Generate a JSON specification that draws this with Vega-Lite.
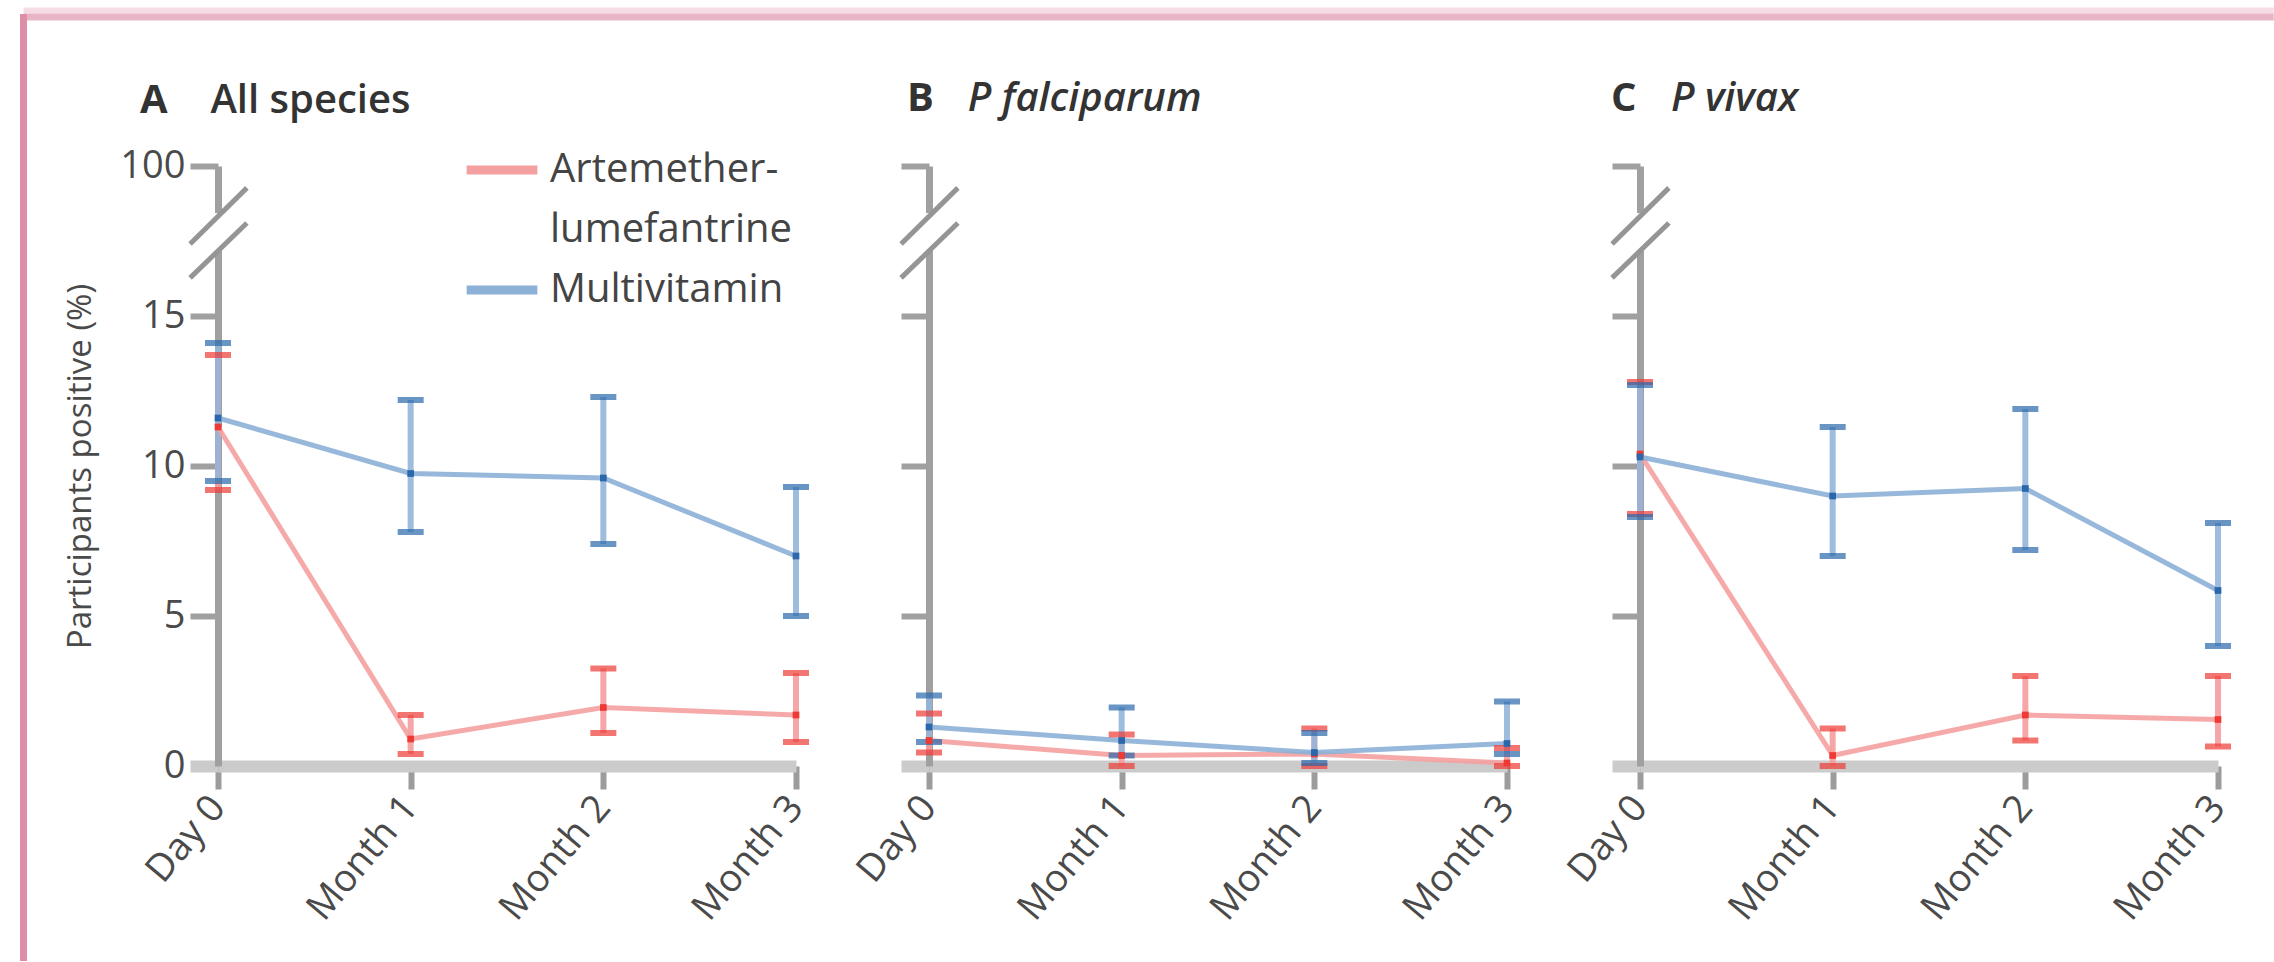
{
  "$schema": "https://vega.github.io/schema/vega-lite/v6.json",
  "background": "white",
  "padding": {"left": 20, "top": 7, "right": 0, "bottom": 0},
  "bounds": "flush",
  "spacing": 133,
  "datasets": {
    "pts": [
      {"panel": "A", "group": "Artemether-lumefantrine", "t": 0, "v": 11.3, "lo": 9.2, "hi": 13.7},
      {"panel": "A", "group": "Artemether-lumefantrine", "t": 1, "v": 0.9, "lo": 0.4, "hi": 1.7},
      {"panel": "A", "group": "Artemether-lumefantrine", "t": 2, "v": 1.95, "lo": 1.1, "hi": 3.25},
      {"panel": "A", "group": "Artemether-lumefantrine", "t": 3, "v": 1.7, "lo": 0.8, "hi": 3.1},
      {"panel": "A", "group": "Multivitamin", "t": 0, "v": 11.6, "lo": 9.5, "hi": 14.1},
      {"panel": "A", "group": "Multivitamin", "t": 1, "v": 9.75, "lo": 7.8, "hi": 12.2},
      {"panel": "A", "group": "Multivitamin", "t": 2, "v": 9.6, "lo": 7.4, "hi": 12.3},
      {"panel": "A", "group": "Multivitamin", "t": 3, "v": 7.0, "lo": 5.0, "hi": 9.3},
      {"panel": "B", "group": "Artemether-lumefantrine", "t": 0, "v": 0.85, "lo": 0.45, "hi": 1.75},
      {"panel": "B", "group": "Artemether-lumefantrine", "t": 1, "v": 0.35, "lo": 0.0, "hi": 1.05},
      {"panel": "B", "group": "Artemether-lumefantrine", "t": 2, "v": 0.4, "lo": 0.0, "hi": 1.25},
      {"panel": "B", "group": "Artemether-lumefantrine", "t": 3, "v": 0.1, "lo": 0.0, "hi": 0.6},
      {"panel": "B", "group": "Multivitamin", "t": 0, "v": 1.3, "lo": 0.8, "hi": 2.35},
      {"panel": "B", "group": "Multivitamin", "t": 1, "v": 0.85, "lo": 0.35, "hi": 1.95},
      {"panel": "B", "group": "Multivitamin", "t": 2, "v": 0.45, "lo": 0.1, "hi": 1.1},
      {"panel": "B", "group": "Multivitamin", "t": 3, "v": 0.75, "lo": 0.4, "hi": 2.15},
      {"panel": "C", "group": "Artemether-lumefantrine", "t": 0, "v": 10.4, "lo": 8.4, "hi": 12.8},
      {"panel": "C", "group": "Artemether-lumefantrine", "t": 1, "v": 0.35, "lo": 0.0, "hi": 1.25},
      {"panel": "C", "group": "Artemether-lumefantrine", "t": 2, "v": 1.7, "lo": 0.85, "hi": 3.0},
      {"panel": "C", "group": "Artemether-lumefantrine", "t": 3, "v": 1.55, "lo": 0.65, "hi": 3.0},
      {"panel": "C", "group": "Multivitamin", "t": 0, "v": 10.3, "lo": 8.3, "hi": 12.7},
      {"panel": "C", "group": "Multivitamin", "t": 1, "v": 9.0, "lo": 7.0, "hi": 11.3},
      {"panel": "C", "group": "Multivitamin", "t": 2, "v": 9.25, "lo": 7.2, "hi": 11.9},
      {"panel": "C", "group": "Multivitamin", "t": 3, "v": 5.85, "lo": 4.0, "hi": 8.1}
    ]
  },
  "config": {
    "font": "Open Sans",
    "view": {"stroke": null},
    "axis": {
      "grid": false,
      "labelFont": "Open Sans",
      "labelColor": "#4a4a4a",
      "labelFlush": false,
      "labelOverlap": false,
      "titleFont": "Open Sans",
      "titleFontWeight": "normal",
      "titleColor": "#4a4a4a"
    },
    "axisX": {
      "domain": true,
      "domainColor": "#cbcbcb",
      "domainWidth": 12,
      "tickColor": "#9c9c9c",
      "tickWidth": 6,
      "tickSize": 23,
      "labelExpr": "['Day 0','Month 1','Month 2','Month 3'][datum.value]",
      "labelAngle": -50,
      "labelAlign": "right",
      "labelBaseline": "middle",
      "labelFontSize": 38,
      "labelPadding": 12
    },
    "axisY": {
      "domain": true,
      "domainColor": "#a0a0a0",
      "domainWidth": 7,
      "tickSize": 28,
      "tickColor": {"condition": {"test": "datum.value === 0", "value": "#cbcbcb"}, "value": "#a0a0a0"},
      "tickWidth": {"condition": {"test": "datum.value === 0", "value": 12}, "value": 6},
      "labelFontSize": 38,
      "labelPadding": 5
    }
  },
  "resolve": {"scale": {"color": "independent"}, "legend": {"color": "independent"}},
  "hconcat": [
    {
      "width": 578,
      "height": 600,
      "title": {"text": "A", "subtitle": "\u200b\u2003\u2002\u00a0All species", "anchor": "start", "frame": "group", "dx": -78, "offset": -113, "font": "Open Sans", "fontSize": 40, "fontWeight": "bold", "lineHeight": 40, "color": "#333333", "subtitleFont": "Open Sans", "subtitleFontSize": 40, "subtitleFontWeight": 600, "subtitleLineHeight": 40, "subtitlePadding": -40, "subtitleColor": "#333333"},
      "data": {"name": "pts"},
      "transform": [{"filter": "datum.panel === 'A'"}],
      "encoding": {
        "x": {"field": "t", "type": "quantitative", "scale": {"domain": [0, 3], "nice": false, "zero": false}, "axis": {"values": [0, 1, 2, 3], "title": null}},
        "y": {"field": "v", "type": "quantitative", "scale": {"domain": [0, 20], "nice": false, "zero": false}, "axis": {"values": [0, 5, 10, 15, 20], "labelExpr": "datum.value == 20 ? '100' : datum.label", "title": "Participants positive (%)", "titleFontSize": 33, "titlePadding": 22}}
      },
      "layer": [
        {"transform": [{"filter": "datum.t === 0 && datum.group === 'Multivitamin'"}], "mark": {"type": "rule", "color": "#f6dde5", "strokeWidth": 6}, "encoding": {"x": {"datum": -1.0095, "type": "quantitative"}, "x2": {"datum": 10.67}, "y": {"datum": 25.18, "type": "quantitative"}}},
        {"transform": [{"filter": "datum.t === 0 && datum.group === 'Multivitamin'"}], "mark": {"type": "rule", "color": "#e8b5c5", "strokeWidth": 7}, "encoding": {"x": {"datum": -1.0095, "type": "quantitative"}, "x2": {"datum": 10.67}, "y": {"datum": 24.97, "type": "quantitative"}}},
        {"transform": [{"filter": "datum.t === 0 && datum.group === 'Multivitamin'"}], "mark": {"type": "rule", "color": "#de8fa8", "strokeWidth": 7}, "encoding": {"x": {"datum": -1.0095, "type": "quantitative"}, "y": {"datum": 25.07, "type": "quantitative"}, "y2": {"datum": -6.5}}},
        {"transform": [{"filter": "datum.t === 0 && datum.group === 'Multivitamin'"}], "mark": {"type": "rule", "color": "white", "strokeWidth": 11}, "encoding": {"x": {"datum": 0, "type": "quantitative"}, "y": {"datum": 17.17, "type": "quantitative"}, "y2": {"datum": 18.43}}},
        {"transform": [{"filter": "datum.t === 0 && datum.group === 'Multivitamin'"}], "mark": {"type": "rule", "color": "#959595", "strokeWidth": 5}, "encoding": {"x": {"datum": -0.145, "type": "quantitative"}, "x2": {"datum": 0.15}, "y": {"datum": 17.4, "type": "quantitative"}, "y2": {"datum": 19.27}}},
        {"transform": [{"filter": "datum.t === 0 && datum.group === 'Multivitamin'"}], "mark": {"type": "rule", "color": "#959595", "strokeWidth": 5}, "encoding": {"x": {"datum": -0.145, "type": "quantitative"}, "x2": {"datum": 0.15}, "y": {"datum": 16.27, "type": "quantitative"}, "y2": {"datum": 18.1}}},
        {"mark": {"type": "rule", "strokeWidth": 6, "opacity": 0.9}, "encoding": {"y": {"field": "lo", "type": "quantitative"}, "y2": {"field": "hi"}, "color": {"condition": {"test": "datum.group === 'Multivitamin'", "value": "#93b5d9"}, "value": "#f59c9c"}}},
        {"mark": {"type": "line", "strokeWidth": 5, "opacity": 0.9}, "encoding": {"color": {"field": "group", "type": "nominal", "scale": {"domain": ["Artemether-lumefantrine", "lumefantrine", "Multivitamin"], "range": ["#f5a0a0", "rgba(255,255,255,0)", "#8cb0d6"]}, "legend": {"orient": "none", "direction": "vertical", "legendX": 244, "legendY": -36, "title": null, "padding": 0, "symbolType": "stroke", "symbolStrokeWidth": 9, "symbolSize": 5000, "symbolOpacity": 1, "labelFont": "Open Sans", "labelFontSize": 40, "labelColor": "#444444", "labelOffset": 8, "labelLimit": 600, "rowPadding": -13, "labelExpr": "datum.label == 'Artemether-lumefantrine' ? 'Artemether-' : datum.label"}}}},
        {"mark": {"type": "tick", "orient": "horizontal", "size": 26, "thickness": 6}, "encoding": {"y": {"field": "lo", "type": "quantitative"}, "color": {"condition": {"test": "datum.group === 'Multivitamin'", "value": "#2a68ab"}, "value": "#ee3a35"}}},
        {"mark": {"type": "tick", "orient": "horizontal", "size": 26, "thickness": 6}, "encoding": {"y": {"field": "hi", "type": "quantitative"}, "color": {"condition": {"test": "datum.group === 'Multivitamin'", "value": "#2a68ab"}, "value": "#ee3a35"}}},
        {"mark": {"type": "square", "size": 45, "filled": true, "opacity": 1}, "encoding": {"color": {"condition": {"test": "datum.group === 'Multivitamin'", "value": "#2a68ab"}, "value": "#ee3a35"}}}
      ]
    },
    {
      "width": 578,
      "height": 600,
      "title": {"text": "B", "subtitle": "\u200b\u2003\u00a0\u00a0P falciparum", "anchor": "start", "frame": "group", "dx": -22, "offset": 44, "font": "Open Sans", "fontSize": 40, "fontWeight": "bold", "lineHeight": 40, "color": "#333333", "subtitleFont": "Open Sans", "subtitleFontSize": 40, "subtitleFontWeight": 600, "subtitleFontStyle": "italic", "subtitleLineHeight": 40, "subtitlePadding": -40, "subtitleColor": "#333333"},
      "data": {"name": "pts"},
      "transform": [{"filter": "datum.panel === 'B'"}],
      "encoding": {
        "x": {"field": "t", "type": "quantitative", "scale": {"domain": [0, 3], "nice": false, "zero": false}, "axis": {"values": [0, 1, 2, 3], "title": null}},
        "y": {"field": "v", "type": "quantitative", "scale": {"domain": [0, 20], "nice": false, "zero": false}, "axis": {"values": [0, 5, 10, 15, 20], "labels": false, "title": null}}
      },
      "layer": [
        {"transform": [{"filter": "datum.t === 0 && datum.group === 'Multivitamin'"}], "mark": {"type": "rule", "color": "white", "strokeWidth": 11}, "encoding": {"x": {"datum": 0, "type": "quantitative"}, "y": {"datum": 17.17, "type": "quantitative"}, "y2": {"datum": 18.43}}},
        {"transform": [{"filter": "datum.t === 0 && datum.group === 'Multivitamin'"}], "mark": {"type": "rule", "color": "#959595", "strokeWidth": 5}, "encoding": {"x": {"datum": -0.145, "type": "quantitative"}, "x2": {"datum": 0.15}, "y": {"datum": 17.4, "type": "quantitative"}, "y2": {"datum": 19.27}}},
        {"transform": [{"filter": "datum.t === 0 && datum.group === 'Multivitamin'"}], "mark": {"type": "rule", "color": "#959595", "strokeWidth": 5}, "encoding": {"x": {"datum": -0.145, "type": "quantitative"}, "x2": {"datum": 0.15}, "y": {"datum": 16.27, "type": "quantitative"}, "y2": {"datum": 18.1}}},
        {"mark": {"type": "rule", "strokeWidth": 6, "opacity": 0.9}, "encoding": {"y": {"field": "lo", "type": "quantitative"}, "y2": {"field": "hi"}, "color": {"condition": {"test": "datum.group === 'Multivitamin'", "value": "#93b5d9"}, "value": "#f59c9c"}}},
        {"mark": {"type": "line", "strokeWidth": 5, "opacity": 0.9}, "encoding": {"color": {"field": "group", "type": "nominal", "scale": {"domain": ["Artemether-lumefantrine", "Multivitamin"], "range": ["#f5a0a0", "#8cb0d6"]}, "legend": null}}},
        {"mark": {"type": "tick", "orient": "horizontal", "size": 26, "thickness": 6}, "encoding": {"y": {"field": "lo", "type": "quantitative"}, "color": {"condition": {"test": "datum.group === 'Multivitamin'", "value": "#2a68ab"}, "value": "#ee3a35"}}},
        {"mark": {"type": "tick", "orient": "horizontal", "size": 26, "thickness": 6}, "encoding": {"y": {"field": "hi", "type": "quantitative"}, "color": {"condition": {"test": "datum.group === 'Multivitamin'", "value": "#2a68ab"}, "value": "#ee3a35"}}},
        {"mark": {"type": "square", "size": 45, "filled": true, "opacity": 1}, "encoding": {"color": {"condition": {"test": "datum.group === 'Multivitamin'", "value": "#2a68ab"}, "value": "#ee3a35"}}}
      ]
    },
    {
      "width": 578,
      "height": 600,
      "title": {"text": "C", "subtitle": "\u200b\u2003\u2002P vivax", "anchor": "start", "frame": "group", "dx": -29, "offset": 44, "font": "Open Sans", "fontSize": 40, "fontWeight": "bold", "lineHeight": 40, "color": "#333333", "subtitleFont": "Open Sans", "subtitleFontSize": 40, "subtitleFontWeight": 600, "subtitleFontStyle": "italic", "subtitleLineHeight": 40, "subtitlePadding": -40, "subtitleColor": "#333333"},
      "data": {"name": "pts"},
      "transform": [{"filter": "datum.panel === 'C'"}],
      "encoding": {
        "x": {"field": "t", "type": "quantitative", "scale": {"domain": [0, 3], "nice": false, "zero": false}, "axis": {"values": [0, 1, 2, 3], "title": null}},
        "y": {"field": "v", "type": "quantitative", "scale": {"domain": [0, 20], "nice": false, "zero": false}, "axis": {"values": [0, 5, 10, 15, 20], "labels": false, "title": null}}
      },
      "layer": [
        {"transform": [{"filter": "datum.t === 0 && datum.group === 'Multivitamin'"}], "mark": {"type": "rule", "color": "white", "strokeWidth": 11}, "encoding": {"x": {"datum": 0, "type": "quantitative"}, "y": {"datum": 17.17, "type": "quantitative"}, "y2": {"datum": 18.43}}},
        {"transform": [{"filter": "datum.t === 0 && datum.group === 'Multivitamin'"}], "mark": {"type": "rule", "color": "#959595", "strokeWidth": 5}, "encoding": {"x": {"datum": -0.145, "type": "quantitative"}, "x2": {"datum": 0.15}, "y": {"datum": 17.4, "type": "quantitative"}, "y2": {"datum": 19.27}}},
        {"transform": [{"filter": "datum.t === 0 && datum.group === 'Multivitamin'"}], "mark": {"type": "rule", "color": "#959595", "strokeWidth": 5}, "encoding": {"x": {"datum": -0.145, "type": "quantitative"}, "x2": {"datum": 0.15}, "y": {"datum": 16.27, "type": "quantitative"}, "y2": {"datum": 18.1}}},
        {"mark": {"type": "rule", "strokeWidth": 6, "opacity": 0.9}, "encoding": {"y": {"field": "lo", "type": "quantitative"}, "y2": {"field": "hi"}, "color": {"condition": {"test": "datum.group === 'Multivitamin'", "value": "#93b5d9"}, "value": "#f59c9c"}}},
        {"mark": {"type": "line", "strokeWidth": 5, "opacity": 0.9}, "encoding": {"color": {"field": "group", "type": "nominal", "scale": {"domain": ["Artemether-lumefantrine", "Multivitamin"], "range": ["#f5a0a0", "#8cb0d6"]}, "legend": null}}},
        {"mark": {"type": "tick", "orient": "horizontal", "size": 26, "thickness": 6}, "encoding": {"y": {"field": "lo", "type": "quantitative"}, "color": {"condition": {"test": "datum.group === 'Multivitamin'", "value": "#2a68ab"}, "value": "#ee3a35"}}},
        {"mark": {"type": "tick", "orient": "horizontal", "size": 26, "thickness": 6}, "encoding": {"y": {"field": "hi", "type": "quantitative"}, "color": {"condition": {"test": "datum.group === 'Multivitamin'", "value": "#2a68ab"}, "value": "#ee3a35"}}},
        {"mark": {"type": "square", "size": 45, "filled": true, "opacity": 1}, "encoding": {"color": {"condition": {"test": "datum.group === 'Multivitamin'", "value": "#2a68ab"}, "value": "#ee3a35"}}}
      ]
    }
  ]
}
